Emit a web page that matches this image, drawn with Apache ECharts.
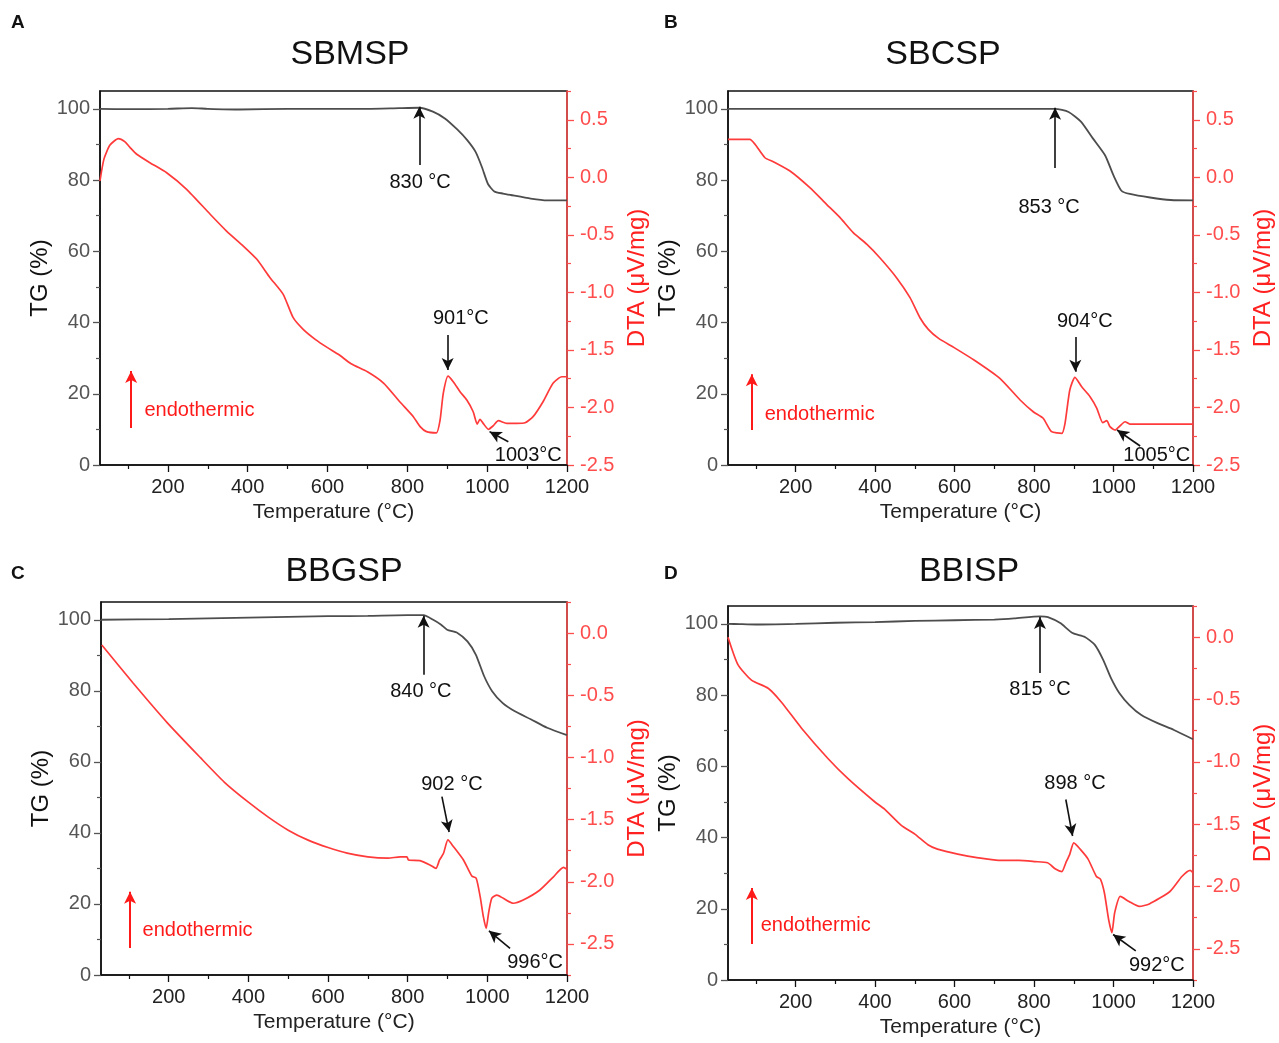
<!DOCTYPE html>
<html>
<head>
<meta charset="utf-8">
<title>TG / DTA curves</title>
<script src="https://cdn.jsdelivr.net/npm/echarts@6/dist/echarts.min.js"></script>
<style>
  html, body { margin: 0; padding: 0; background: #ffffff; }
  #chart { width: 1279px; height: 1043px; }
</style>
</head>
<body>
<div id="chart"></div>
<script>
// ---------- Sample A: SBMSP ----------
const tgTempA = [30, 100, 200, 260, 300, 380, 500, 600, 700, 780, 830, 864, 894, 925, 950, 971, 987, 1002, 1018, 1040, 1059, 1109, 1150, 1200];
const tgA     = [100, 99.9, 100, 100.2, 100, 99.8, 100, 100, 100, 100.2, 100.3, 99.2, 97.3, 94.2, 91.2, 87.9, 83.6, 78.9, 76.8, 76.2, 75.8, 74.8, 74.3, 74.3];
const dtaTempA = [30, 40, 55, 76, 92, 105, 122, 155, 197, 247, 306, 347, 389, 423, 456, 489, 514, 539, 570, 600, 628, 659, 700, 741, 781, 815, 832, 848, 873, 882, 890, 902, 915, 932, 949, 965, 975, 982, 990, 1003, 1015, 1028, 1049, 1074, 1095, 1115, 1140, 1165, 1187, 1200];
const dtaA     = [-0.03, 0.16, 0.28, 0.336, 0.31, 0.26, 0.20, 0.127, 0.04, -0.104, -0.321, -0.467, -0.597, -0.712, -0.872, -1.017, -1.22, -1.321, -1.41, -1.48, -1.54, -1.62, -1.69, -1.79, -1.95, -2.08, -2.167, -2.21, -2.22, -2.11, -1.877, -1.727, -1.776, -1.863, -1.935, -2.037, -2.144, -2.103, -2.138, -2.19, -2.16, -2.115, -2.138, -2.138, -2.133, -2.08, -1.95, -1.79, -1.733, -1.733];

// ---------- Sample B: SBCSP ----------
const tgTempB = [30, 200, 400, 600, 800, 853, 887, 918, 948, 979, 1000, 1020, 1041, 1092, 1144, 1200];
const tgB     = [100, 100, 100, 100, 100, 100, 99.1, 96.4, 91.7, 86.9, 81.3, 77.0, 76.1, 75.1, 74.4, 74.3];
const dtaTempB = [30, 85, 98, 123, 144, 186, 236, 278, 312, 345, 379, 412, 454, 488, 513, 534, 560, 599, 650, 714, 765, 798, 823, 844, 870, 878, 890, 903, 920, 941, 958, 973, 983, 991, 1004, 1016, 1029, 1041, 1100, 1200];
const dtaB     = [0.33, 0.33, 0.287, 0.17, 0.136, 0.055, -0.09, -0.235, -0.351, -0.481, -0.581, -0.699, -0.872, -1.046, -1.22, -1.321, -1.40, -1.48, -1.59, -1.747, -1.935, -2.037, -2.094, -2.21, -2.225, -2.138, -1.848, -1.738, -1.82, -1.906, -2.007, -2.132, -2.115, -2.167, -2.196, -2.161, -2.124, -2.144, -2.144, -2.144];

// ---------- Sample C: BBGSP ----------
const tgTempC = [30, 200, 400, 600, 700, 800, 840, 864, 884, 899, 925, 950, 971, 992, 1012, 1038, 1068, 1109, 1150, 1200];
const tgC     = [100, 100.2, 100.6, 101, 101.1, 101.3, 101.3, 100.0, 98.6, 97.2, 96.3, 93.9, 90.2, 84.1, 79.9, 76.6, 74.3, 72.0, 69.6, 67.5];
const dtaTempC = [32, 110, 196, 279, 340, 400, 450, 500, 550, 600, 648, 700, 751, 781, 798, 802, 831, 856, 871, 880, 890, 901, 915, 940, 961, 972, 982, 990, 997, 1003, 1011, 1024, 1040, 1065, 1090, 1132, 1166, 1191, 1200];
const dtaC     = [-0.096, -0.40, -0.72, -1.00, -1.20, -1.36, -1.48, -1.585, -1.665, -1.725, -1.77, -1.80, -1.81, -1.80, -1.80, -1.825, -1.83, -1.865, -1.892, -1.825, -1.771, -1.664, -1.718, -1.825, -1.954, -1.972, -2.12, -2.281, -2.375, -2.254, -2.133, -2.107, -2.133, -2.173, -2.147, -2.066, -1.96, -1.884, -1.90];

// ---------- Sample D: BBISP ----------
const tgTempD = [30, 60, 100, 200, 300, 400, 500, 600, 700, 750, 815, 835, 866, 897, 928, 953, 974, 994, 1015, 1040, 1070, 1111, 1152, 1200];
const tgD     = [100, 99.9, 99.8, 100, 100.3, 100.5, 100.8, 101, 101.2, 101.5, 102.1, 101.9, 100.2, 97.4, 96.3, 94.1, 89.9, 84.7, 80.5, 77.2, 74.4, 72.1, 70.2, 67.6];
const dtaTempD = [30, 55, 89, 131, 164, 215, 282, 332, 399, 424, 466, 500, 533, 557, 608, 660, 711, 762, 803, 834, 854, 870, 880, 890, 900, 916, 936, 957, 967, 977, 988, 996, 1003, 1017, 1039, 1065, 1090, 1142, 1172, 1193, 1200];
const dtaD     = [0.0, -0.22, -0.345, -0.41, -0.52, -0.73, -0.975, -1.135, -1.32, -1.38, -1.51, -1.58, -1.665, -1.70, -1.74, -1.77, -1.79, -1.79, -1.80, -1.81, -1.86, -1.88, -1.81, -1.74, -1.65, -1.70, -1.78, -1.92, -1.94, -2.05, -2.27, -2.37, -2.21, -2.08, -2.12, -2.16, -2.14, -2.04, -1.92, -1.87, -1.89];

// ---------- Axis tick values ----------
const tempLabels = [200, 400, 600, 800, 1000, 1200];
const tempMinor  = [100, 300, 500, 700, 900, 1100];
const tgLabels   = [0, 20, 40, 60, 80, 100];
const tgMinor    = [10, 30, 50, 70, 90];
const dtaLabelsAB = [-2.5, -2.0, -1.5, -1.0, -0.5, 0.0, 0.5];
const dtaMinorAB  = [-2.25, -1.75, -1.25, -0.75, -0.25, 0.25, 0.75];
const dtaLabelsCD = [-2.5, -2.0, -1.5, -1.0, -0.5, 0.0];
const dtaMinorCD  = [-2.75, -2.25, -1.75, -1.25, -0.75, -0.25, 0.25];

// ---------- Annotations (arrow tail, arrow tip, text, text anchor) ----------
const notesA = [
  { axis: 'tg',  from: [830, 84.2],    to: [830, 100.6],   text: '830 \u00B0C', at: [832, 79.2] },
  { axis: 'dta', from: [901, -1.37],   to: [901, -1.675],  text: '901\u00B0C',  at: [934, -1.223] },
  { axis: 'dta', from: [1053, -2.298], to: [1006, -2.21],  text: '1003\u00B0C', at: [1103, -2.413] }
];
const notesB = [
  { axis: 'tg',  from: [853, 83.4],    to: [853, 100.3],   text: '853 \u00B0C', at: [838, 72.2] },
  { axis: 'dta', from: [904, -1.388],  to: [904, -1.69],   text: '904\u00B0C',  at: [928, -1.257] },
  { axis: 'dta', from: [1067, -2.335], to: [1009, -2.196], text: '1005\u00B0C', at: [1109, -2.413] }
];
const notesC = [
  { axis: 'tg',  from: [840, 84.5],    to: [840, 101.1],   text: '840 \u00B0C', at: [833, 79.7] },
  { axis: 'dta', from: [886, -1.316],  to: [904, -1.6],    text: '902 \u00B0C', at: [911, -1.214] },
  { axis: 'dta', from: [1057, -2.535], to: [1004, -2.395], text: '996\u00B0C',  at: [1120, -2.65] }
];
const notesD = [
  { axis: 'tg',  from: [815, 86.2],    to: [815, 101.9],   text: '815 \u00B0C', at: [815, 81.7] },
  { axis: 'dta', from: [880, -1.302],  to: [897, -1.595],  text: '898 \u00B0C', at: [903, -1.174] },
  { axis: 'dta', from: [1056, -2.517], to: [999, -2.385],  text: '992\u00B0C',  at: [1109, -2.637] }
];
const endoA = { from: [108, 10.4], to: [108, 26.4], text: 'endothermic', at: [140, 15.2] };
const endoB = { from: [90, 9.8],   to: [90, 25.5],  text: 'endothermic', at: [121, 14.3] };
const endoC = { from: [103, 7.6],  to: [103, 23.4], text: 'endothermic', at: [133, 12.4] };
const endoD = { from: [90, 10.1],  to: [90, 25.8],  text: 'endothermic', at: [111, 15.2] };

// ---------- Styling ----------
const FONT = '"Liberation Sans", Arial, Helvetica, sans-serif';
const TG_COLOR = '#4d4d4d';
const DTA_COLOR = '#ff3a3a';
const DTA_AXIS = '#ff4d4d';
const INK = '#111111';

const panels = [
  { letter: 'A', title: 'SBMSP', box: { left: 100, top: 91, width: 467, height: 374 }, letterPos: [11, 13], titlePos: [350, 55],
    tgT: tgTempA, tg: tgA, dtaT: dtaTempA, dta: dtaA, dtaMin: -2.5, dtaMax: 0.75, dtaLab: dtaLabelsAB, dtaMin2: dtaMinorAB, notes: notesA, endo: endoA },
  { letter: 'B', title: 'SBCSP', box: { left: 728, top: 91, width: 465, height: 374 }, letterPos: [664, 13], titlePos: [943, 55],
    tgT: tgTempB, tg: tgB, dtaT: dtaTempB, dta: dtaB, dtaMin: -2.5, dtaMax: 0.75, dtaLab: dtaLabelsAB, dtaMin2: dtaMinorAB, notes: notesB, endo: endoB },
  { letter: 'C', title: 'BBGSP', box: { left: 101, top: 602, width: 466, height: 373 }, letterPos: [11, 564], titlePos: [344, 572],
    tgT: tgTempC, tg: tgC, dtaT: dtaTempC, dta: dtaC, dtaMin: -2.75, dtaMax: 0.25, dtaLab: dtaLabelsCD, dtaMin2: dtaMinorCD, notes: notesC, endo: endoC },
  { letter: 'D', title: 'BBISP', box: { left: 728, top: 606, width: 465, height: 374 }, letterPos: [664, 564], titlePos: [969, 572],
    tgT: tgTempD, tg: tgD, dtaT: dtaTempD, dta: dtaD, dtaMin: -2.75, dtaMax: 0.25, dtaLab: dtaLabelsCD, dtaMin2: dtaMinorCD, notes: notesD, endo: endoD }
];

function zip(xs, ys) { return xs.map((x, i) => [x, ys[i]]); }

const grids = [], xAxes = [], yAxes = [], series = [], graphics = [];

panels.forEach((p, i) => {
  grids.push(Object.assign({ show: true, borderColor: INK, borderWidth: 1.5, backgroundColor: 'transparent' }, p.box));

  // temperature axis, with an overlay for the minor ticks
  xAxes.push({
    type: 'value', gridIndex: i, position: 'bottom', min: 30, max: 1200,
    name: 'Temperature (\u00B0C)', nameLocation: 'middle', nameGap: 37,
    nameTextStyle: { fontFamily: FONT, fontSize: 21, color: '#222' },
    axisLine: { show: true, onZero: false, lineStyle: { color: INK, width: 1.5 } },
    axisTick: { show: true, inside: false, length: 7, customValues: tempLabels, lineStyle: { color: INK, width: 1.3 } },
    axisLabel: { show: true, customValues: tempLabels, margin: 12, fontFamily: FONT, fontSize: 20, color: '#222',
                 formatter: v => String(v) },
    splitLine: { show: false }
  });
  xAxes.push({
    type: 'value', gridIndex: i, position: 'bottom', min: 30, max: 1200,
    axisLine: { show: false, onZero: false },
    axisTick: { show: true, inside: false, length: 4, customValues: tempMinor, lineStyle: { color: INK, width: 1.2 } },
    axisLabel: { show: false }, splitLine: { show: false }
  });

  // TG axis (left) + minor overlay
  yAxes.push({
    type: 'value', gridIndex: i, position: 'left', min: 0, max: 105,
    name: 'TG (%)', nameLocation: 'middle', nameGap: 46, nameRotate: 90,
    nameTextStyle: { fontFamily: FONT, fontSize: 24, color: INK },
    axisLine: { show: true, onZero: false, lineStyle: { color: INK, width: 1.5 } },
    axisTick: { show: true, inside: false, length: 7, customValues: tgLabels, lineStyle: { color: '#555', width: 1.3 } },
    axisLabel: { show: true, customValues: tgLabels, margin: 10, fontFamily: FONT, fontSize: 20, color: '#555',
                 formatter: v => String(v) },
    splitLine: { show: false }
  });
  yAxes.push({
    type: 'value', gridIndex: i, position: 'left', min: 0, max: 105,
    axisLine: { show: false, onZero: false },
    axisTick: { show: true, inside: false, length: 4, customValues: tgMinor, lineStyle: { color: '#555', width: 1.2 } },
    axisLabel: { show: false }, splitLine: { show: false }
  });

  // DTA axis (right) + minor overlay
  yAxes.push({
    type: 'value', gridIndex: i, position: 'right', min: p.dtaMin, max: p.dtaMax,
    name: 'DTA (\u03BCV/mg)', nameLocation: 'middle', nameGap: 58, nameRotate: 90,
    nameTextStyle: { fontFamily: FONT, fontSize: 24, color: '#ff2020' },
    axisLine: { show: true, onZero: false, lineStyle: { color: DTA_AXIS, width: 1.5 } },
    axisTick: { show: true, inside: false, length: 7, customValues: p.dtaLab, lineStyle: { color: DTA_AXIS, width: 1.3 } },
    axisLabel: { show: true, customValues: p.dtaLab, margin: 13, fontFamily: FONT, fontSize: 20, color: DTA_AXIS,
                 formatter: v => v.toFixed(1) },
    splitLine: { show: false }
  });
  yAxes.push({
    type: 'value', gridIndex: i, position: 'right', min: p.dtaMin, max: p.dtaMax,
    axisLine: { show: false, onZero: false },
    axisTick: { show: true, inside: false, length: 4, customValues: p.dtaMin2, lineStyle: { color: DTA_AXIS, width: 1.2 } },
    axisLabel: { show: false }, splitLine: { show: false }
  });

  const xi = 2 * i, yTg = 4 * i, yDta = 4 * i + 2;

  const arrowLine = (n, color, width) => [
    { coord: n.from, lineStyle: { color: color, width: width } },
    { coord: n.to }
  ];
  const textPoint = (n, color, align) => ({
    coord: n.at, name: n.text,
    label: { show: true, formatter: '{b}', color: color, fontFamily: FONT, fontSize: 20,
             position: align === 'left' ? 'right' : 'inside', distance: 0 }
  });

  const tgNotes = p.notes.filter(n => n.axis === 'tg');
  const dtaNotes = p.notes.filter(n => n.axis === 'dta');

  const marker = (lines, points) => ({
    markLine: {
      silent: true, animation: false, symbol: ['none', 'arrow'], symbolSize: [9, 12],
      label: { show: false }, lineStyle: { type: 'solid', color: INK, width: 1.6 },
      emphasis: { disabled: true }, data: lines
    },
    markPoint: {
      silent: true, animation: false, symbol: 'circle', symbolSize: 1,
      itemStyle: { color: 'rgba(0,0,0,0)' }, emphasis: { disabled: true }, data: points
    }
  });

  series.push(Object.assign({
    type: 'line', name: p.title + ' TG', xAxisIndex: xi, yAxisIndex: yTg,
    data: zip(p.tgT, p.tg), showSymbol: false, smooth: 0.2,
    lineStyle: { color: TG_COLOR, width: 1.8 }, itemStyle: { color: TG_COLOR }, z: 3
  }, marker(
    tgNotes.map(n => arrowLine(n, INK, 1.6)).concat([arrowLine(p.endo, '#ff1a1a', 2)]),
    tgNotes.map(n => textPoint(n, INK, 'center')).concat([textPoint(p.endo, '#ff1a1a', 'left')])
  )));

  series.push(Object.assign({
    type: 'line', name: p.title + ' DTA', xAxisIndex: xi, yAxisIndex: yDta,
    data: zip(p.dtaT, p.dta), showSymbol: false, smooth: 0.2,
    lineStyle: { color: DTA_COLOR, width: 1.7 }, itemStyle: { color: DTA_COLOR }, z: 4
  }, marker(
    dtaNotes.map(n => arrowLine(n, INK, 1.6)),
    dtaNotes.map(n => textPoint(n, INK, 'center'))
  )));

  graphics.push({
    type: 'text', left: p.letterPos[0], top: p.letterPos[1],
    style: { text: p.letter, fontFamily: FONT, fontSize: 19, fontWeight: 'bold', fill: INK }
  });
  graphics.push({
    type: 'text', x: p.titlePos[0], y: p.titlePos[1],
    style: { text: p.title, fontFamily: FONT, fontSize: 34, fill: INK, align: 'center', verticalAlign: 'middle' }
  });
});

const chart = echarts.init(document.getElementById('chart'), null, { renderer: 'canvas' });
chart.setOption({
  animation: false,
  backgroundColor: '#ffffff',
  textStyle: { fontFamily: FONT },
  grid: grids,
  xAxis: xAxes,
  yAxis: yAxes,
  series: series,
  graphic: graphics
});
</script>
</body>
</html>
